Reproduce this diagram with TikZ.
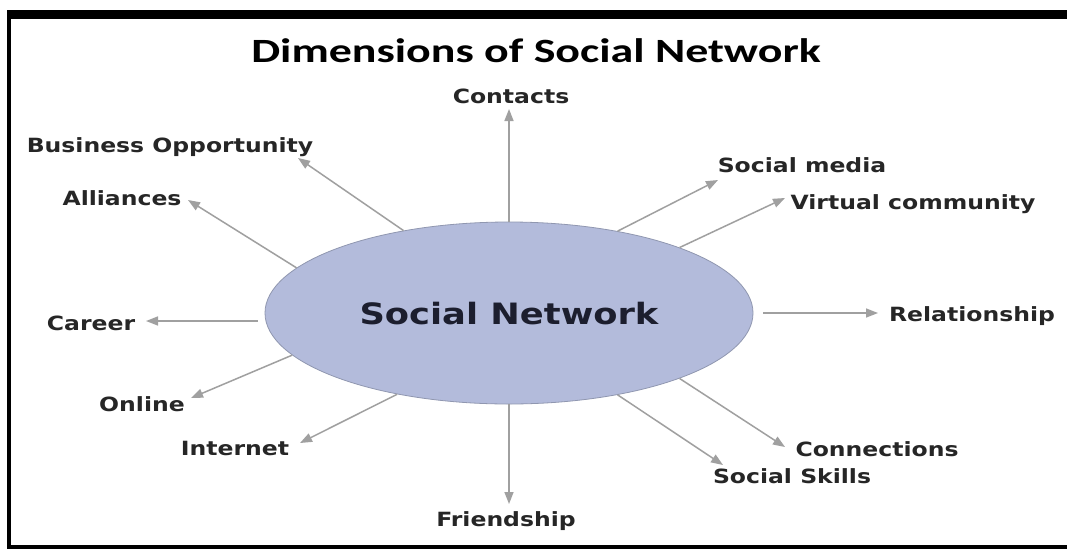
\documentclass[tikz,border=0pt]{standalone}
\usepackage{fontspec}
\usetikzlibrary{shapes.geometric,arrows.meta}
\newfontfamily\labfont{DejaVu Sans}[FakeStretch=1.2]
\newfontfamily\titlefont{Carlito}[FakeStretch=1.35]
\definecolor{ellfill}{HTML}{B3BBDB}
\definecolor{elldraw}{HTML}{9097B0}
\definecolor{arrgray}{HTML}{A0A0A0}
\definecolor{labtext}{HTML}{262626}
\definecolor{sntext}{HTML}{1C1E2E}
\tikzset{
  lab/.style={anchor=base, inner sep=0pt, text=labtext, font=\labfont\bfseries\fontsize{19.6}{22}\selectfont},
  arr/.style={draw=arrgray, line width=1.5pt, -{Triangle[length=12pt,width=9pt]}},
  bar/.style={fill=black, draw=none}
}
\begin{document}
\begin{tikzpicture}[x=1pt,y=-1pt]
\useasboundingbox (0,0) rectangle (1067,549);
\fill[white] (0,0) rectangle (1067,549);
% frame
\fill[black] (7,10) rectangle (1067,19);
\fill[black] (7,10) rectangle (11,549);
\fill[black] (7,545) rectangle (1067,549);
% title
\node[anchor=base, inner sep=0pt, text=black, font=\titlefont\bfseries\fontsize{34}{36}\selectfont] (title) at (536,62) {Dimensions of Social Network};
% center ellipse
\node[ellipse, minimum width=488pt, minimum height=182pt, inner sep=0pt, fill=ellfill, draw=elldraw, line width=0.8pt] (sn) at (509,313) {};
\node[anchor=base, inner sep=0pt, text=sntext, font=\labfont\bfseries\fontsize{29.4}{32}\selectfont] (snt) at (509,324) {Social Network};
% labels
\node[lab] (contacts) at (511,103) {Contacts};
\node[lab] (bo) at (170,152) {Business Opportunity};
\node[lab] (alliances) at (122,205) {Alliances};
\node[lab] (career) at (91,330) {Career};
\node[lab] (online) at (142,411) {Online};
\node[lab] (internet) at (235,455) {Internet};
\node[lab] (friendship) at (506,526) {Friendship};
\node[lab] (skills) at (792,483) {Social Skills};
\node[lab] (connections) at (877,456) {Connections};
\node[lab] (relationship) at (972,321) {Relationship};
\node[lab] (vc) at (913,209) {Virtual community};
\node[lab] (sm) at (802,172) {Social media};
% arrow tips
\coordinate (tContacts) at (509,109);
\coordinate (tBo) at (298,158);
\coordinate (tAlliances) at (188,200);
\coordinate (tCareer) at (146,321);
\coordinate (tOnline) at (191,398);
\coordinate (tInternet) at (300,443);
\coordinate (tFriendship) at (509,504);
\coordinate (tSkills) at (723,465);
\coordinate (tConnections) at (785,447);
\coordinate (tRelationship) at (878,313);
\coordinate (tVc) at (785,198);
\coordinate (tSm) at (718,180);
% arrows
\draw[arr] (sn.90) -- (tContacts);
\draw[arr] (sn.142) -- (tBo);
\draw[arr] (sn.168) -- (tAlliances);
\draw[arr, shorten <=7pt] (sn.west |- tCareer) -- (tCareer);
\draw[arr] (sn.191) -- (tOnline);
\draw[arr] (sn.216) -- (tInternet);
\draw[arr] (sn.270) -- (tFriendship);
\draw[arr] (sn.-37) -- (tSkills);
\draw[arr] (sn.-21) -- (tConnections);
\draw[arr, shorten <=10pt] (sn.0) -- (tRelationship);
\draw[arr] (sn.21) -- (tVc);
\draw[arr] (sn.37) -- (tSm);
\end{tikzpicture}
\end{document}
